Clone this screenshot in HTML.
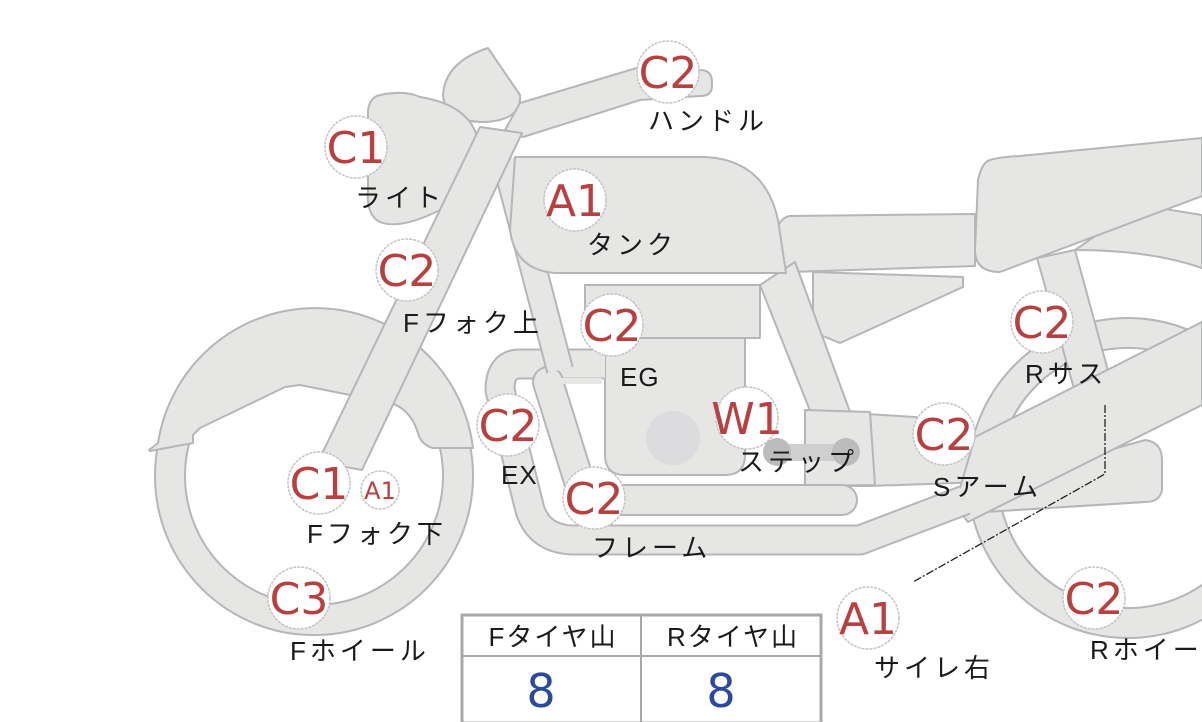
<!DOCTYPE html>
<html><head><meta charset="utf-8"><style>
html,body{margin:0;padding:0;background:#fff;}
svg{display:block;}
.s{fill:#e6e6e4;stroke:#b4b6b8;stroke-width:2;stroke-linejoin:round;}
.lab{font-family:"Liberation Sans","Noto Sans CJK JP",sans-serif;font-size:26px;letter-spacing:4px;fill:#1a1a1a;}
.cc{fill:#fff;stroke:#c4c4c4;stroke-width:1.5;stroke-dasharray:3 1;}
.ct{font-family:"DejaVu Sans","Liberation Sans",sans-serif;font-size:44px;fill:#b84040;text-anchor:middle;}
</style></head><body>
<svg width="1202" height="722" viewBox="0 0 1202 722" xmlns="http://www.w3.org/2000/svg">
<!-- rear wheel -->
<path class="s" fill-rule="evenodd" d="M968,478 a160,160 0 1,0 320,0 a160,160 0 1,0 -320,0 Z M998,478 a130,130 0 1,0 260,0 a130,130 0 1,0 -260,0 Z"/>
<!-- seat + under seat band -->
<path class="s" d="M1075,250 Q1150,250 1202,268 L1202,215 L1140,205 Z"/>
<path class="s" d="M990,160 Q1000,157 1020,156 L1202,138 L1202,196 L1000,272 Q975,272 975,250 L978,180 Q982,162 990,160 Z"/>
<!-- rear suspension -->
<polygon class="s" points="1037,258 1075,250 1110,378 1075,392"/>
<!-- side cover & battery -->
<path class="s" d="M790,216 L975,214 L975,266 L790,272 Q772,270 774,245 Q776,218 790,216 Z"/>
<polygon class="s" points="813,272 963,277 963,287 840,343 813,332"/>
<!-- muffler -->
<path class="s" d="M985,485 L1145,440 Q1162,442 1162,460 L1162,490 Q1160,502 1145,502 L985,512 Z"/>
<!-- rear frame tube -->
<polygon class="s" points="760,285 795,262 875,480 840,486"/>
<!-- S arm front band + step box -->
<polygon class="s" points="805,410 930,418 985,440 985,482 870,486 805,486"/>
<polygon class="s" points="805,410 870,412 875,485 805,486"/>
<!-- swingarm -->
<polygon class="s" points="975,437 1202,322 1202,405 968,522 955,505"/>
<!-- engine -->
<rect class="s" x="585" y="285" width="175" height="53"/>
<path class="s" d="M605,338 L745,338 L745,455 Q745,475 725,475 L625,475 Q605,475 605,455 Z"/>
<circle cx="673" cy="438" r="27" fill="#dcdcde"/>
<!-- lower tubes: exhaust / frame -->
<path d="M605,364 L520,364 Q500,364 500,390 L530,510 Q540,540 575,540 L860,540 L965,500" fill="none" stroke="#b4b6b8" stroke-width="31" stroke-linejoin="round"/>
<path d="M605,364 L520,364 Q500,364 500,390 L530,510 Q540,540 575,540 L860,540 L965,500" fill="none" stroke="#e6e6e4" stroke-width="27" stroke-linejoin="round"/>
<path d="M548,382 L578,478 Q586,500 612,500 L842,500" fill="none" stroke="#b4b6b8" stroke-width="32" stroke-linecap="round"/>
<path d="M548,382 L578,478 Q586,500 612,500 L842,500" fill="none" stroke="#e6e6e4" stroke-width="28" stroke-linecap="round"/>
<rect x="540" y="378" width="62" height="6" fill="#e6e6e4"/>
<!-- frame downtube -->
<line x1="505" y1="160" x2="560" y2="370" stroke="#b4b6b8" stroke-width="28"/>
<line x1="505" y1="160" x2="560" y2="370" stroke="#e6e6e4" stroke-width="24"/>
<!-- tank -->
<path class="s" d="M515,157 L705,157 Q765,160 778,220 L786,273 L555,273 Q515,270 510,230 Z"/>
<!-- front wheel -->
<path class="s" fill-rule="evenodd" d="M155,476 a159,159 0 1,0 318,0 a159,159 0 1,0 -318,0 Z M185,476 a129,129 0 1,0 258,0 a129,129 0 1,0 -258,0 Z"/>
<path class="s" d="M149,450 L158,443 A159,159 0 0,1 473,448 L432,448 Q420,443 418,433 Q410,408 390,403 L300,385 L285,387 L200,428 L193,435 L193,443 L150,451 Z"/>
<!-- meter -->
<path class="s" d="M488,48 L520,95 Q522,120 485,122 Q445,122 443,95 Q445,62 488,48 Z"/>
<!-- headlight -->
<path class="s" d="M380,95 Q405,90 420,97 Q470,105 478,140 Q480,195 440,210 Q400,230 380,222 Q366,215 368,190 L368,110 Q370,97 380,95 Z"/>
<!-- handlebar -->
<path class="s" d="M700,70 Q712,70 712,82 L712,86 Q712,96 700,96 L640,100 L523,137 L505,130 L520,103 L640,67 Z"/>
<!-- fork -->
<polygon class="s" points="480,127 522,133 362,470 318,462"/>
<!-- step -->
<rect x="776" y="444" width="66" height="17" fill="#cfcfcf"/>
<circle cx="777" cy="452" r="14" fill="#bcbcbc"/>
<circle cx="846" cy="452" r="14" fill="#bcbcbc"/>
<!-- dash dot line -->
<polyline points="1105,405 1105,474 913,582" fill="none" stroke="#222" stroke-width="1.3" stroke-dasharray="8 2 2 2"/>
<!-- circles -->
<g>
<circle class="cc" cx="668" cy="72" r="31"/><text class="ct" x="668" y="88">C2</text>
<circle class="cc" cx="356" cy="147" r="31"/><text class="ct" x="356" y="163">C1</text>
<circle class="cc" cx="575" cy="200" r="31"/><text class="ct" x="575" y="216">A1</text>
<circle class="cc" cx="407" cy="270" r="31"/><text class="ct" x="407" y="286">C2</text>
<circle class="cc" cx="612" cy="325" r="31"/><text class="ct" x="612" y="341">C2</text>
<circle class="cc" cx="508" cy="425" r="31"/><text class="ct" x="508" y="441">C2</text>
<circle class="cc" cx="747" cy="418" r="31"/><text class="ct" x="747" y="434">W1</text>
<circle class="cc" cx="594" cy="498" r="31"/><text class="ct" x="594" y="514">C2</text>
<circle class="cc" cx="319" cy="483" r="31"/><text class="ct" x="319" y="499">C1</text>
<circle class="cc" cx="380" cy="490" r="19"/><text class="ct" x="380" y="499" style="font-size:24px">A1</text>
<circle class="cc" cx="299" cy="598" r="31"/><text class="ct" x="299" y="614">C3</text>
<circle class="cc" cx="1042" cy="322" r="31"/><text class="ct" x="1042" y="338">C2</text>
<circle class="cc" cx="944" cy="434" r="31"/><text class="ct" x="944" y="450">C2</text>
<circle class="cc" cx="868" cy="618" r="31"/><text class="ct" x="868" y="634">A1</text>
<circle class="cc" cx="1094" cy="598" r="31"/><text class="ct" x="1094" y="614">C2</text>
</g>
<!-- labels -->
<text class="lab" x="648" y="130">ハンドル</text>
<text class="lab" x="355" y="207">ライト</text>
<text class="lab" x="587" y="254">タンク</text>
<text class="lab" x="403" y="332">Fフォク上</text>
<text class="lab" x="620" y="386" style="letter-spacing:1px">EG</text>
<text class="lab" x="501" y="484" style="letter-spacing:1px">EX</text>
<text class="lab" x="738" y="471">ステップ</text>
<text class="lab" x="592" y="557">フレーム</text>
<text class="lab" x="307" y="543">Fフォク下</text>
<text class="lab" x="290" y="660">Fホイール</text>
<text class="lab" x="1025" y="383">Rサス</text>
<text class="lab" x="933" y="496">Sアーム</text>
<text class="lab" x="874" y="677">サイレ右</text>
<text class="lab" x="1090" y="659">Rホイール</text>
<!-- table -->
<rect x="462" y="615" width="359" height="108" fill="#fff" stroke="#a8a8a8" stroke-width="3"/>
<line x1="462" y1="656" x2="821" y2="656" stroke="#a8a8a8" stroke-width="2"/>
<line x1="641" y1="615" x2="641" y2="722" stroke="#a8a8a8" stroke-width="2"/>
<text class="lab" x="553" y="646" text-anchor="middle" style="letter-spacing:2px">Fタイヤ山</text>
<text class="lab" x="733" y="646" text-anchor="middle" style="letter-spacing:2px">Rタイヤ山</text>
<text x="541" y="707" text-anchor="middle" style="font-family:'DejaVu Sans','Liberation Sans',sans-serif;font-size:46px;fill:#2c4a9c">8</text>
<text x="721" y="707" text-anchor="middle" style="font-family:'DejaVu Sans','Liberation Sans',sans-serif;font-size:46px;fill:#2c4a9c">8</text>
</svg>
</body></html>
